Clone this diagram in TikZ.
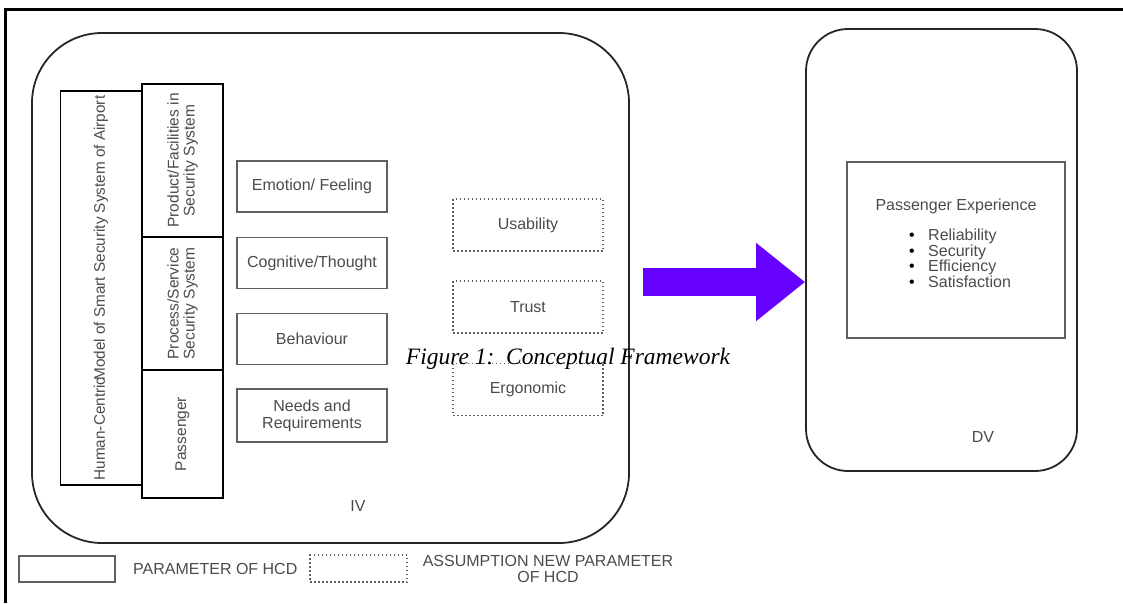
\documentclass[tikz,border=0pt]{standalone}
\usepackage{fontspec}
\setmainfont{Liberation Sans}
\newfontfamily\captionserif{Liberation Serif}
\usepackage{xcolor}
\usepackage{tikz}
\usetikzlibrary{arrows.meta}
\definecolor{hcdGray}{RGB}{95,95,95}
\definecolor{hcdText}{RGB}{75,75,75}
\definecolor{hcdPurple}{RGB}{102,0,255}

\begin{document}
\begin{tikzpicture}[x=1pt, y=-1pt,
  every node/.style={text=hcdText, font=\fontsize{16}{17}\selectfont, inner sep=0pt},
  roundbox/.style={draw=black!85, line width=1.8pt},
  colbox/.style={draw=black, line width=2pt, rotate=90, minimum height=81pt, align=center,
    font=\fontsize{15.5}{16}\selectfont},
  parambox/.style={draw=hcdGray, line width=1.2pt, minimum width=150pt, minimum height=51pt, align=center},
  newparam/.style={draw=hcdGray, line width=1.3pt, dash pattern=on 1.5pt off 2.5pt, minimum width=150pt, minimum height=52pt},
  bigarrow/.style={hcdPurple, line width=28pt, -{Triangle[length=49pt, width=75pt]}}]
\useasboundingbox (0,0) rectangle (1123,603);
\draw[line width=3pt] (5,603) -- (5,9) -- (1123,9);
\node[roundbox, rounded corners=70pt, minimum width=597pt, minimum height=510pt] (ivbox) at (330.5,288) {};
\node[roundbox, rounded corners=42pt, minimum width=271pt, minimum height=442pt] (dvbox) at (941.5,250) {};
\node[colbox, line width=1.6pt, minimum width=394pt, font=\fontsize{15.3}{16}\selectfont] (hcmodel) at (101,288)
  {Human-Centric\kern-3pt Model of Smart Security System of Airport};
\node[colbox, minimum width=153pt] (product) at (182.5,160.5) {Product/Facilities in\\Security System};
\node[colbox, minimum width=133pt] (process) at (182.5,303.5) {Process/Service\\Security System};
\node[colbox, minimum width=128pt] (passenger) at (182.5,434) {Passenger};
\node[parambox] (emotion) at (312,186.5) {Emotion/ Feeling};
\node[parambox] (cognitive) at (312,263) {Cognitive/Thought};
\node[parambox] (behaviour) at (312,339) {Behaviour};
\node[parambox, minimum height=53pt] (needs) at (312,415.5) {Needs and\\Requirements};
\node[newparam] (usability) at (528,225) {Usability};
\node[newparam] (trust) at (528,307) {Trust};
\node[newparam] (ergonomic) at (528,389.5) {Ergonomic};
\node (ivlabel) at (358,506) {IV};
\node (dvlabel) at (983,437) {DV};
\coordinate (arrowstart) at (643,282);
\draw[bigarrow] (arrowstart) -- (arrowstart -| dvbox.west);
\node[draw=hcdGray, line width=1.2pt, minimum width=218pt, minimum height=176pt] (pxbox) at (956,250) {};
\node (pxtitle) at (956,206) {Passenger Experience};
\node[anchor=north west, align=left, font=\fontsize{16}{15.5}\selectfont] (pxlist) at (909,229)
  {\makebox[19pt][l]{\textcolor{black}{\textbullet}}Reliability\\
   \makebox[19pt][l]{\textcolor{black}{\textbullet}}Security\\
   \makebox[19pt][l]{\textcolor{black}{\textbullet}}Efficiency\\
   \makebox[19pt][l]{\textcolor{black}{\textbullet}}Satisfaction};
\node[text=black, font=\captionserif\itshape\fontsize{23.5}{26}\selectfont, anchor=base] (caption) at (568,364)
  {Figure 1:~~Conceptual Framework};
\node[draw=hcdGray, line width=1.2pt, minimum width=96pt, minimum height=26pt] (legsolid) at (67,569) {};
\node[anchor=west] (legsolidtext) at (133,569) {PARAMETER OF HCD};
\node[newparam, minimum width=97pt, minimum height=27pt] (legdashed) at (358.5,568.5) {};
\node[align=center, font=\fontsize{16}{16}\selectfont] (legdashedtext) at (548,569) {ASSUMPTION NEW PARAMETER\\OF HCD};
\end{tikzpicture}
\end{document}
